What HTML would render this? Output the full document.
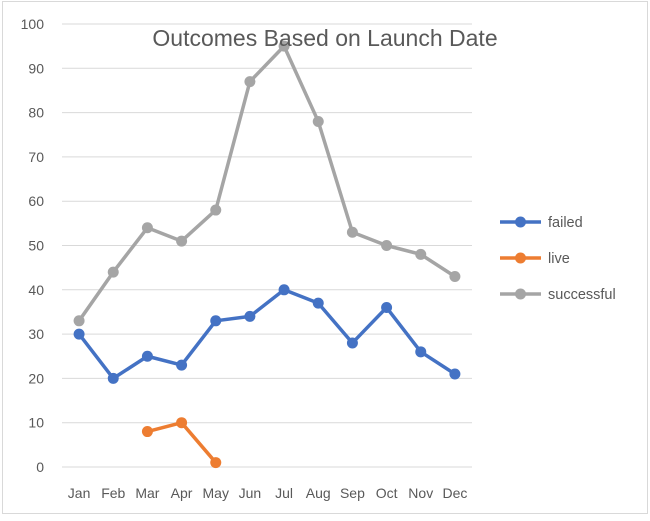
<!DOCTYPE html>
<html><head><meta charset="utf-8"><style>
html,body{margin:0;padding:0;background:#fff;}
body{width:650px;height:516px;overflow:hidden;font-family:"Liberation Sans",sans-serif;}
</style></head><body>
<svg id="chart" width="650" height="516" xmlns="http://www.w3.org/2000/svg" font-family="Liberation Sans, sans-serif">
<rect x="2.5" y="1.5" width="645" height="512" fill="#fff" stroke="#d9d9d9"/>
<g id="grid"></g><g id="series"></g><g id="legend"></g>
<text x="325" y="46" text-anchor="middle" font-size="23" fill="#595959">Outcomes Based on Launch Date</text>
</svg>
<script>
const months=["Jan","Feb","Mar","Apr","May","Jun","Jul","Aug","Sep","Oct","Nov","Dec"];
const failed=[30,20,25,23,33,34,40,37,28,36,26,21];
const live=[null,null,8,10,1,null,null,null,null,null,null,null];
const successful=[33,44,54,51,58,87,95,78,53,50,48,43];
const yTicks=[0,10,20,30,40,50,60,70,80,90,100];
const NS="http://www.w3.org/2000/svg";
const plotLeft=62,plotRight=472,plotTop=24,plotBottom=467;
const bw=(plotRight-plotLeft)/months.length;
const xs=i=>plotLeft+bw*(i+0.5);
const ys=v=>plotBottom-(v/100)*(plotBottom-plotTop);
function mk(tag,attrs,parent){const e=document.createElementNS(NS,tag);for(const k in attrs)e.setAttribute(k,attrs[k]);parent.appendChild(e);return e;}
const grid=document.getElementById('grid');
yTicks.forEach(t=>{
  const l=mk('line',{x1:plotLeft,x2:plotRight,y1:ys(t),y2:ys(t),stroke:'#d9d9d9','stroke-width':1},grid);
  
  
  const tx=mk('text',{x:44,y:ys(t)+5,'text-anchor':'end','font-size':14,fill:'#595959'},grid);
  tx.textContent=t;
  
  
});
months.forEach((m,i)=>{
  const tx=mk('text',{x:xs(i),y:498,'text-anchor':'middle','font-size':14,fill:'#595959'},grid);
  tx.textContent=m;
  
  
});
const ser=document.getElementById('series');
function draw(name,data,color){
  const g=mk('g',{},ser);
  
  
  let d='';let pen=false;
  data.forEach((v,i)=>{if(v==null){pen=false;return;}d+=(pen?'L':'M')+xs(i)+' '+ys(v)+' ';pen=true;});
  const p=mk('path',{d:d,fill:'none',stroke:color,'stroke-width':3.5,'stroke-linejoin':'round','stroke-linecap':'round'},g);
  
  
  data.forEach((v,i)=>{if(v==null)return;
    const c=mk('circle',{cx:xs(i),cy:ys(v),r:5.5,fill:color},g);
    
    
  });
}
draw('successful',successful,'#a5a5a5');
draw('failed',failed,'#4472c4');
draw('live',live,'#ed7d31');
const lg=document.getElementById('legend');
[['failed','#4472c4',222],['live','#ed7d31',258],['successful','#a5a5a5',294]].forEach(([n,c,yy])=>{
  const g=mk('g',{},lg);
  
  
  mk('line',{x1:500,x2:541,y1:yy,y2:yy,stroke:c,'stroke-width':3.5},g);
  mk('circle',{cx:520.5,cy:yy,r:5.5,fill:c},g);
  const t=mk('text',{x:548,y:yy+5,'font-size':14.5,fill:'#595959'},g);
  t.textContent=n;
});
</script>
</body></html>
